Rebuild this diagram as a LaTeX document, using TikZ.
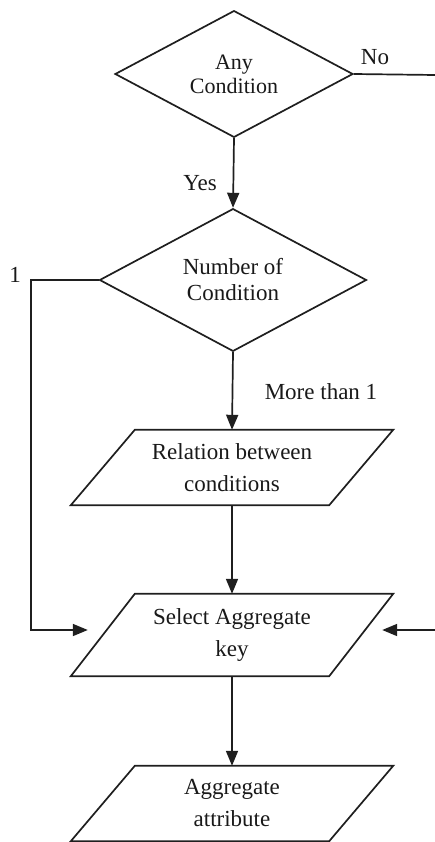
\documentclass[tikz,border=0pt]{standalone}
\usepackage{fontspec}
\setmainfont{Liberation Serif}
\usetikzlibrary{shapes.geometric,arrows.meta}

\tikzset{
  line/.style={draw=black!88, line width=1.7pt},
  arr/.style={line, -{Triangle[length=15pt,width=12pt]}},
  decision/.style={diamond, line, fill=white, inner sep=0pt, align=center,
    text=black!90},
  iobox/.style={rectangle, inner sep=0pt, minimum width=194pt, align=center,
    text=black!90, font=\fontsize{23}{32}\selectfont},
  lbl/.style={inner sep=0pt, text=black!90, font=\fontsize{23}{28}\selectfont}
}

% parallelogram drawn round a node's rectangle, slanted to the right
\newcommand\slantframe[1]{%
  \draw[line] ([xshift=-64pt]#1.south west) -- (#1.north west)
    -- ([xshift=64pt]#1.north east) -- (#1.south east) -- cycle;}

\begin{document}
\begin{tikzpicture}[x=1pt, y=-1pt]
  \useasboundingbox (0,0) rectangle (435,842);

  % decisions
  \node[decision, minimum width=238pt, minimum height=123pt,
        font=\fontsize{22}{24}\selectfont] (anyc) at (234,74)
        {Any\\Condition};
  \node[decision, minimum width=267pt, minimum height=124pt,
        font=\fontsize{23}{26}\selectfont] (ncond) at (233,280)
        {Number of\\Condition};

  % input/output boxes
  \node[iobox, minimum height=75pt] (rel) at (232,467.5)
        {Relation between\\conditions};
  \slantframe{rel}
  \node[iobox, minimum height=82pt] (sel) at (232,635)
        {Select Aggregate\\key};
  \slantframe{sel}
  \node[iobox, minimum height=75pt] (agg) at (232,803.5)
        {Aggregate\\attribute};
  \slantframe{agg}

  % routing points
  \coordinate (lft) at (31,280);
  \coordinate (edgeTop) at (435,75);
  \coordinate (edgeSel) at (435,630);

  % connectors
  \draw[arr] (anyc.south) -- (ncond.north);
  \draw[arr] (ncond.south) -- (rel.north);
  \draw[arr] (rel.south) -- (sel.north);
  \draw[arr] (sel.south) -- (agg.north);
  \draw[arr, shorten >=47pt] (ncond.west) -- (lft) |- ([yshift=5pt]sel.west);
  \draw[line] (anyc.east) -- (edgeTop);
  \draw[arr, shorten >=53pt] (edgeSel) -- ([yshift=5pt]sel.east);

  % branch labels
  \node[lbl] (lno) at (375,57) {No};
  \node[lbl] (lyes) at (200,183) {Yes};
  \node[lbl] (lone) at (15,275) {1};
  \node[lbl] (lmore) at (321,392) {More than 1};
\end{tikzpicture}
\end{document}
